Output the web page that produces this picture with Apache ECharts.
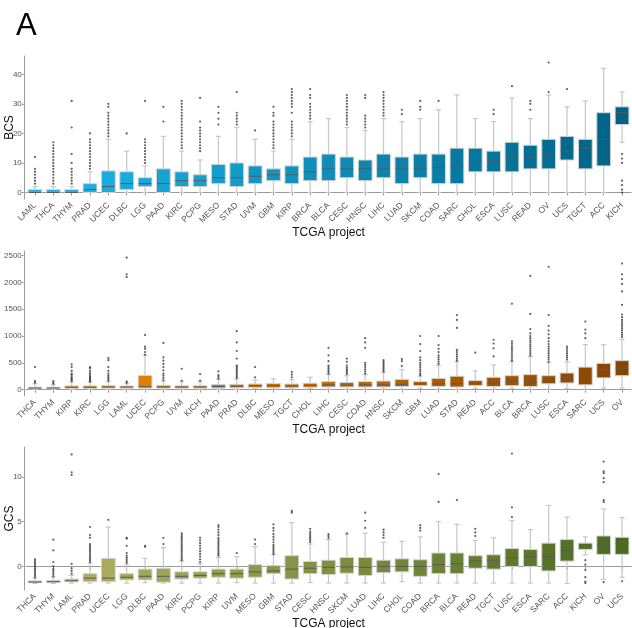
<!DOCTYPE html>
<html><head><meta charset="utf-8">
<script src="https://cdn.jsdelivr.net/npm/echarts@6/dist/echarts.min.js"></script>
<style>html,body{margin:0;padding:0;background:#fff}#c{width:632px;height:628px}</style>
</head><body><div id="c"></div>
<script>
// ---------- Panel 1: BCS ----------
const cats1 = ['LAML','THCA','THYM','PRAD','UCEC','DLBC','LGG','PAAD','KIRC','PCPG','MESO','STAD','UVM','GBM','KIRP','BRCA','BLCA','CESC','HNSC','LIHC','LUAD','SKCM','COAD','SARC','CHOL','ESCA','LUSC','READ','OV','UCS','TGCT','ACC','KICH'];
const lo1  = [0,0,0,0,0,0,0,0,0,0,0,0,0,0,0,0,0,0,0,0,0,0,0,0,0,0,0,0,0,0,0,0,17];
const q1_1 = [0,0,0,0,0,1,2,0,2,2,3,2,3,4,3,4,4,5,4,5,3,5,3,3,7,7,7,8,8,11,8,9,23];
const med1 = [0,0,0,1,2,3,3,3,4,4,5,5,5.5,6,6,7,8,8,8,8,8,8,8.5,9,10.5,11,12,12,13,14,15,18,27];
const q3_1 = [1,1,1,3,7.3,7,5,8,7,6,9.5,10,9,8,9,12,13,12,11,13,12,13,13,15,15,14,17,16,18,19,18,27,29];
const hi1  = [2,2,2,7,18,14,9,19,14,11,19,22,18,14,18,24,25,22,21,25,24,25,28,33,25,24,32,25,33,29,31,42,34];
const out1 = [
 [3,4,5,6,7,8,12],
 [3,4,5,6,7,8,9,10,11,12,13,14,15,16,17],
 [3,4,5,6,7,8,10,13,22,31],
 [8,9,10,11,12,13,14,15,16,17,18,20],
 [19,20,21,22,23,24,25,26,27,29,30],
 [20],
 [10,11,12,13,14,15,16,17,18,31],
 [24,29],
 [15,16,17,18,19,20,21,22,23,24,25,26,27,28,29,30,31],
 [14,15,16,17,18,19,20,21,22,24,32],
 [23,25,27,29],
 [23,24,25,26,27,34],
 [21],
 [15,16,17,18,19,20,21,22,23,24,26,27,29],
 [19,20,21,22,23,24,27,29,30,31,32,33,34,35],
 [25,26,27,28,29,30,32,33,35],
 [],
 [23,24,25,26,27,28,29,30,31,32,33],
 [22,23,24,25,26,32,33],
 [26,27,28,29,30,31,32,33,34],
 [26.5,28],
 [28,29,31],
 [31],
 [],
 [],
 [26.5,28],
 [36],
 [28,30,31],
 [34,44],
 [35],
 [],
 [],
 [0,1,2.5,4,10,11.5,13]
];
const ticks1 = [0,10,20,30,40];

// ---------- Panel 2 ----------
const cats2 = ['THCA','THYM','KIRP','KIRC','LGG','LAML','UCEC','PCPG','UVM','KICH','PAAD','PRAD','DLBC','MESO','TGCT','CHOL','LIHC','CESC','COAD','HNSC','SKCM','GBM','LUAD','STAD','READ','ACC','BLCA','BRCA','LUSC','ESCA','SARC','UCS','OV'];
const lo2  = [5,5,5,5,5,10,10,10,10,10,5,5,20,15,15,25,10,10,10,10,10,20,10,5,20,10,20,10,10,20,10,30,30];
const q1_2 = [20,20,25,25,30,30,30,30,30,30,30,35,40,35,35,45,50,50,50,50,60,75,60,50,75,60,75,60,110,125,90,220,260];
const med2 = [30,30,45,45,50,50,55,50,50,50,60,65,75,75,70,80,90,85,90,90,100,110,110,110,115,120,140,140,160,200,230,370,400];
const q3_2 = [45,45,70,70,75,65,265,80,70,70,95,100,105,115,105,120,150,135,150,160,190,150,210,250,170,230,260,280,260,310,420,490,540];
const hi2  = [110,90,140,140,150,110,640,160,150,150,190,200,180,200,190,230,280,260,280,320,370,250,450,520,350,460,520,620,500,520,840,840,940];
const out2 = [
 [130,160,420],
 [110,130,160],
 [160,180,200,220,250,280,300,350,420,470],
 [150,170,190,210,230,250,280,310,350,400,420],
 [170,200,230,260,300,350,420,550,590],
 [130,150,2100,2150,2460],
 [650,700,760,800,1020],
 [180,220,260,300,360,420,480,540,600,870],
 [170,390],
 [170,290],
 [210,240,270,340],
 [220,250,280,310,340,370,400,430,450,580,720,880,1090],
 [230,420],
 [],
 [230,280,330],
 [],
 [300,330,360,390,420,450,530,640,780],
 [290,320,350,380,410,450,520,580],
 [300,340,380,420,460,500,780,880,960],
 [340,370,400,430,460,490,520,550],
 [440,530,570],
 [270,300,340,380,420,460,500,550,600,720,850,1000],
 [480,520,560,600,640,700,760,830,1000],
 [540,580,620,660,700,740,1150,1300,1390],
 [690],
 [620,770,860,930],
 [540,580,620,660,700,740,780,820,860,900,1600],
 [640,680,720,760,800,840,880,920,960,1000,1050,1130,1410,2120],
 [520,560,600,640,680,720,760,800,850,900,960,1030,1100,1190,1390,2290],
 [560,600,640,680,720,760,800],
 [960,1050,1120,1270],
 [],
 [980,1020,1060,1100,1140,1180,1220,1260,1300,1350,1400,1580,1830,1970,2060,2150,2350]
];
const ticks2 = [0,500,1000,1500,2000,2500];

// ---------- Panel 3: GCS ----------
const cats3 = ['THCA','THYM','LAML','PRAD','UCEC','LGG','DLBC','PAAD','KIRC','PCPG','KIRP','UVM','MESO','GBM','STAD','CESC','HNSC','SKCM','LUAD','LIHC','CHOL','COAD','BRCA','BLCA','READ','TGCT','LUSC','ESCA','SARC','ACC','KICH','OV','UCS'];
const lo3  = [-1.9,-1.9,-1.85,-1.85,-1.85,-1.85,-1.8,-1.85,-1.85,-1.85,-1.85,-1.8,-1.85,-1.85,-1.85,-1.8,-1.85,-1.85,-1.85,-1.85,-1.7,-1.85,-1.85,-1.85,-1.85,-1.85,-1.85,-1.85,-1.85,-1.9,1.3,-1.45,-1.2];
const q1_3 = [-1.8,-1.8,-1.7,-1.7,-1.7,-1.5,-1.5,-1.75,-1.4,-1.3,-1.2,-1.3,-1.2,-0.8,-1.4,-0.8,-0.9,-0.75,-1.0,-0.7,-0.6,-1.1,-0.8,-0.8,-0.2,-0.3,0.0,0.0,-0.5,0.6,1.9,1.35,1.35];
const med3 = [-1.75,-1.7,-1.6,-1.3,-1.3,-1.2,-1.1,-1.1,-1.1,-1.0,-0.8,-0.8,-0.6,-0.5,-0.3,-0.2,-0.1,-0.05,-0.1,0.0,0.0,0.0,0.2,0.3,0.6,0.7,1.0,1.1,1.1,1.8,2.3,2.4,2.6];
const q3_3 = [-1.6,-1.55,-1.4,-0.8,0.9,-0.8,-0.3,-0.2,-0.6,-0.6,-0.3,-0.3,0.2,0.1,1.2,0.55,0.7,1.0,1.0,0.7,0.85,0.75,1.5,1.5,1.2,1.3,2.0,1.9,2.6,3.0,2.6,3.4,3.25];
const hi3  = [-1.3,-1.2,-1.0,0.4,4.4,0.2,0.9,2.1,0.6,0.3,1.0,1.1,2.2,1.3,4.9,2.5,3.0,3.6,3.7,2.7,2.8,3.3,5.0,4.7,2.9,3.2,5.1,4.1,6.8,5.5,3.3,6.4,5.45];
const out3 = [
 [-1.2,-1.0,-0.8,-0.6,-0.4,-0.2,0,0.2,0.4,0.6,0.8],
 [-1.1,-0.9,-0.7,-0.5,-0.3,0,0.5,1.8,3.0],
 [-0.8,-0.5,-0.2,0.3,10.2,10.5,12.5],
 [0.5,0.7,0.9,1.1,1.3,1.5,1.7,1.9,2.1,2.3,2.5,3.2,3.5,4.4],
 [5.2],
 [0.4,0.6,0.8,1.0,1.2,1.5,2.3,3.1,3.2],
 [2.2,2.3],
 [2.5,3.2],
 [0.7,0.9,1.1,1.3,1.5,1.7,1.9,2.1,2.3,2.5,2.7,2.9,3.1,3.3,3.5,3.7],
 [0.5,0.8,1.1,1.4,1.7,2.0,2.3,2.6,2.9,3.2],
 [1.2,1.4,1.6,1.8,2.0,2.2,2.4,2.6,2.8,3.0,3.2,3.5,3.8,4.1,4.4,4.6],
 [1.5],
 [2.5,3.0],
 [1.4,1.6,1.8,2.0,2.2,2.4,2.7,3.0,3.3,3.6,4.0,4.3,4.7],
 [6.0,6.2],
 [2.7,2.9,3.1,3.3,3.5,3.7,3.9,4.2],
 [3.2,3.4,3.6],
 [3.7],
 [4.3,5.1,6.0],
 [3.2,3.5,3.8,4.1],
 [],
 [4.0,4.3,4.6],
 [7.2,10.3],
 [7.4],
 [3.4,3.8,4.2],
 [],
 [5.5,6.6,12.6],
 [],
 [],
 [],
 [0.7,0.2,-0.4,-1.2,-1.7,-1.85],
 [7.2,7.4,9.4,9.85,10.4,10.6,11.7,-1.75],
 [-1.65]
];
const ticks3 = [0,5,10];

// ---------- styling helpers ----------
function hex2rgb(h){return [1,3,5].map(i=>parseInt(h.substr(i,2),16));}
function gradient(a,b,n){const A=hex2rgb(a),B=hex2rgb(b);const r=[];for(let i=0;i<n;i++){const t=n>1?i/(n-1):0;r.push('rgb('+A.map((v,k)=>Math.round(v+(B[k]-v)*t)).join(',')+')');}return r;}

const panels = [
  {cats:cats1, lo:lo1, q1:q1_1, med:med1, q3:q3_1, hi:hi1, out:out1, ticks:ticks1, min:-2.2, max:46.2, top:56, height:143, name:'BCS', c0:'#1cb7ec', c1:'#006285'},
  {cats:cats2, lo:lo2, q1:q1_2, med:med2, q3:q3_2, hi:hi2, out:out2, ticks:ticks2, min:-118, max:2583, top:251, height:145, name:'', c0:'#f48e00', c1:'#8a4400'},
  {cats:cats3, lo:lo3, q1:q1_3, med:med3, q3:q3_3, hi:hi3, out:out3, ticks:ticks3, min:-2.625, max:13.325, top:447, height:143, name:'GCS', c0:'#b6b462', c1:'#4b6a20'}
];

const grids=[], xAxes=[], yAxes=[], series=[];
panels.forEach((p,pi)=>{
  const cols = gradient(p.c0,p.c1,p.cats.length);
  grids.push({left:25.8, width:605.4, top:p.top, height:p.height, containLabel:false, outerBoundsMode:'none'});
  xAxes.push({type:'category', gridIndex:pi, data:p.cats, boundaryGap:true,
    name:'TCGA project', nameLocation:'middle', nameGap:28, nameMoveOverlap:false,
    nameTextStyle:{fontSize:12, color:'#111', fontFamily:'Liberation Sans', verticalAlign:'top'},
    axisLine:{lineStyle:{color:'#9a9a9a', width:1}},
    axisTick:{show:true, alignWithLabel:true, length:3, lineStyle:{color:'#9a9a9a'}},
    axisLabel:{rotate:45, fontSize:8.5, color:'#555', margin:5, interval:0, fontFamily:'Liberation Sans'},
    splitLine:{show:false}});
  yAxes.push({type:'value', gridIndex:pi, min:p.min, max:p.max, offset:2,
    name:p.name, nameLocation:'middle', nameGap:8, nameMoveOverlap:false,
    nameTextStyle:{fontSize:12, color:'#111', fontFamily:'Liberation Sans'},
    axisLine:{show:true, lineStyle:{color:'#9a9a9a', width:1}},
    axisTick:{show:true, length:2, customValues:p.ticks, lineStyle:{color:'#9a9a9a'}},
    axisLabel:{customValues:p.ticks, formatter:v=>String(v), fontSize:8, color:'#555', margin:2, fontFamily:'Liberation Sans'},
    splitLine:{show:false}});
  const boxData = p.cats.map((c,i)=>[i, p.lo[i], p.q1[i], p.med[i], p.q3[i], p.hi[i]]);
  series.push({type:'custom', xAxisIndex:pi, yAxisIndex:pi, data:boxData,
    encode:{x:0, y:[1,2,3,4,5]}, z:2,
    renderItem:function(params, api){
      const i=api.value(0);
      const band=api.size([1,0])[0];
      const bw=band*0.75, cw=5;
      const x=api.coord([i,0])[0];
      const yLo=api.coord([i,api.value(1)])[1], yQ1=api.coord([i,api.value(2)])[1],
            yMed=api.coord([i,api.value(3)])[1], yQ3=api.coord([i,api.value(4)])[1],
            yHi=api.coord([i,api.value(5)])[1];
      const wStyle={stroke:'#c6c6c6', lineWidth:1.2};
      return {type:'group', children:[
        {type:'line', shape:{x1:x,y1:yQ3,x2:x,y2:yHi}, style:wStyle},
        {type:'line', shape:{x1:x-cw/2,y1:yHi,x2:x+cw/2,y2:yHi}, style:wStyle},
        {type:'line', shape:{x1:x,y1:yQ1,x2:x,y2:yLo}, style:wStyle},
        {type:'line', shape:{x1:x-cw/2,y1:yLo,x2:x+cw/2,y2:yLo}, style:wStyle},
        {type:'rect', shape:{x:x-bw/2, y:yQ3, width:bw, height:Math.max(yQ1-yQ3,0.5)},
          style:{fill:cols[i], stroke:'#d2d2d2', lineWidth:1}},
        {type:'line', shape:{x1:x-bw/2+0.5,y1:yMed,x2:x+bw/2-0.5,y2:yMed}, style:{stroke:'#5a5a5a', lineWidth:1}}
      ]};
    }});
  const pts=[];
  p.out.forEach((arr,i)=>arr.forEach(v=>pts.push([i,v])));
  series.push({type:'scatter', xAxisIndex:pi, yAxisIndex:pi, data:pts, symbol:'circle', symbolSize:2.2,
    itemStyle:{color:'#3a3a3a'}, z:3, silent:true});
});

const chart = echarts.init(document.getElementById('c'), null, {renderer:'canvas'});
chart.setOption({
  animation:false,
  backgroundColor:'#fff',
  title:{text:'A', left:11, top:6, textStyle:{fontSize:31, fontWeight:'normal', color:'#000', fontFamily:'Liberation Sans'}},
  grid:grids, xAxis:xAxes, yAxis:yAxes, series:series
});
</script>
</body></html>
